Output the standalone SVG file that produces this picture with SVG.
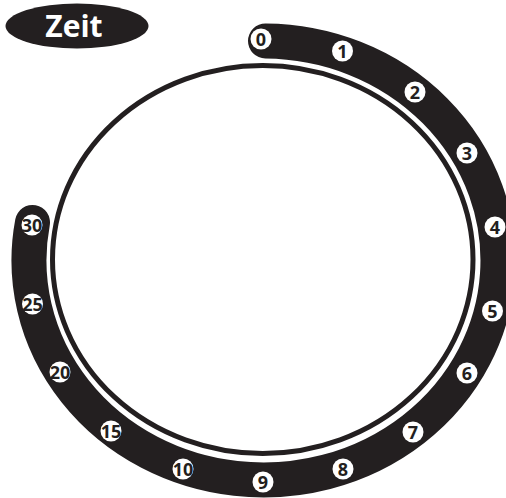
<svg xmlns="http://www.w3.org/2000/svg" width="506" height="498" viewBox="0 0 506 498">
  <style>
    .band { fill: none; stroke: #231f20; stroke-width: 35; stroke-linecap: round; }
    .ring { fill: #ffffff; stroke: #231f20; stroke-width: 5; }
    .mk circle { fill: #ffffff; }
    .mk text { font-family: "Open Sans", "Liberation Sans", sans-serif; font-weight: bold; font-size: 18px; fill: #231f20; text-anchor: middle; }
    .title text { font-family: "Open Sans", "Liberation Sans", sans-serif; font-weight: bold; font-size: 30px; fill: #ffffff; text-anchor: middle; }
  </style>
  <rect width="506" height="498" fill="#ffffff"/>
  <g id="title" class="title">
    <ellipse cx="77" cy="26" rx="71.5" ry="22.5" fill="#231f20"/>
    <text x="74" y="37">Zeit</text>
  </g>
  <g id="connectors">
    <path class="band" d="M 265.5 41 A 234.5 219.5 0 1 1 32.5 222.5"/>
  </g>
  <g id="ring">
    <ellipse class="ring" cx="262.75" cy="259.5" rx="210.25" ry="194"/>
  </g>
  <g id="m0" class="mk"><circle cx="261" cy="39" r="10.5"/><text x="261" y="45.5">0</text></g>
  <g id="m1" class="mk"><circle cx="342.5" cy="51" r="10.5"/><text x="342.5" y="57.5">1</text></g>
  <g id="m2" class="mk"><circle cx="415" cy="92" r="10.5"/><text x="415" y="98.5">2</text></g>
  <g id="m3" class="mk"><circle cx="467" cy="153" r="10.5"/><text x="467" y="159.5">3</text></g>
  <g id="m4" class="mk"><circle cx="495" cy="227" r="10.5"/><text x="495" y="233.5">4</text></g>
  <g id="m5" class="mk"><circle cx="492.5" cy="311" r="10.5"/><text x="492.5" y="317.5">5</text></g>
  <g id="m6" class="mk"><circle cx="467" cy="373" r="10.5"/><text x="467" y="379.5">6</text></g>
  <g id="m7" class="mk"><circle cx="413" cy="432" r="10.5"/><text x="413" y="438.5">7</text></g>
  <g id="m8" class="mk"><circle cx="343" cy="469" r="10.5"/><text x="343" y="475.5">8</text></g>
  <g id="m9" class="mk"><circle cx="263" cy="482" r="10.5"/><text x="263" y="488.5">9</text></g>
  <g id="m10" class="mk"><circle cx="183" cy="469" r="10.5"/><text x="183" y="475.5">10</text></g>
  <g id="m15" class="mk"><circle cx="111" cy="431" r="10.5"/><text x="111" y="437.5">15</text></g>
  <g id="m20" class="mk"><circle cx="60" cy="372" r="10.5"/><text x="60" y="378.5">20</text></g>
  <g id="m25" class="mk"><circle cx="32.5" cy="304" r="10.5"/><text x="32.5" y="310.5">25</text></g>
  <g id="m30" class="mk"><circle cx="32" cy="225" r="10.5"/><text x="32" y="231.5">30</text></g>
</svg>
